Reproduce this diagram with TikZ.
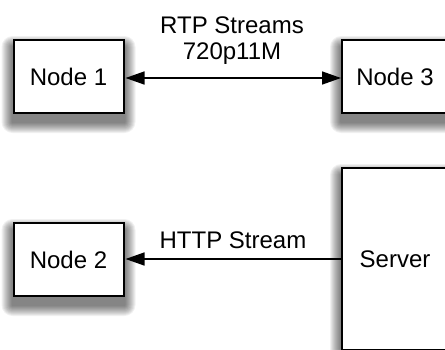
\documentclass[tikz,border=0pt]{standalone}
\usepackage{fontspec}
\setmainfont{Liberation Sans}
\usetikzlibrary{arrows.meta}
\pgfdeclarelayer{background}
\pgfsetlayers{background,main}
\begin{document}
\begin{tikzpicture}[x=1pt,y=1pt,
  font=\fontsize{24}{26}\selectfont,
  box/.style={draw=black,line width=2pt,fill=white,rectangle,inner sep=0pt},
  link/.style={line width=1.5pt,arrows={-Triangle[length=19pt,width=13pt]}},
  lbl/.style={inner sep=0pt,align=center}]
  \useasboundingbox (0,-349) rectangle (445,0);
  \clip (0,-349) rectangle (445,0);

  % hosts
  \node[box,minimum width=110pt,minimum height=73pt] (n1) at (68.5,-76.5) {Node 1};
  \node[box,minimum width=110pt,minimum height=73pt] (n2) at (68.5,-259.5) {Node 2};
  \node[box,minimum width=106pt,minimum height=73pt] (n3) at (395,-76.5) {Node 3};
  \node[box,minimum width=106pt,minimum height=182pt] (srv) at (395,-259) {Server};

  % soft drop shadows under the boxes
  \begin{pgfonlayer}{background}
    \fill[white] (0,-349) rectangle (445,0);
    \foreach \b in {n1,n2,n3,srv}
      \foreach \r in {1,...,11}
        \fill[black,opacity=0.055,rounded corners=\r pt]
          ([shift={(-\r,-8-\r)}]\b.south west) rectangle ([shift={(\r,-8+\r)}]\b.north east);
  \end{pgfonlayer}

  % streams
  \draw[link,arrows={Triangle[length=19pt,width=13pt]-Triangle[length=19pt,width=13pt]},
        shorten <=1pt] (n1.east |- 0,-78) -- (n3.west |- 0,-78);
  \draw[link,shorten >=1pt] (srv.west) -- (n2.east |- srv.west);

  % labels
  \node[lbl] (rtp) at (232,-41) {RTP Streams\\720p11M};
  \node[lbl,anchor=base] (http) at (233,-248) {HTTP Stream};
\end{tikzpicture}
\end{document}
